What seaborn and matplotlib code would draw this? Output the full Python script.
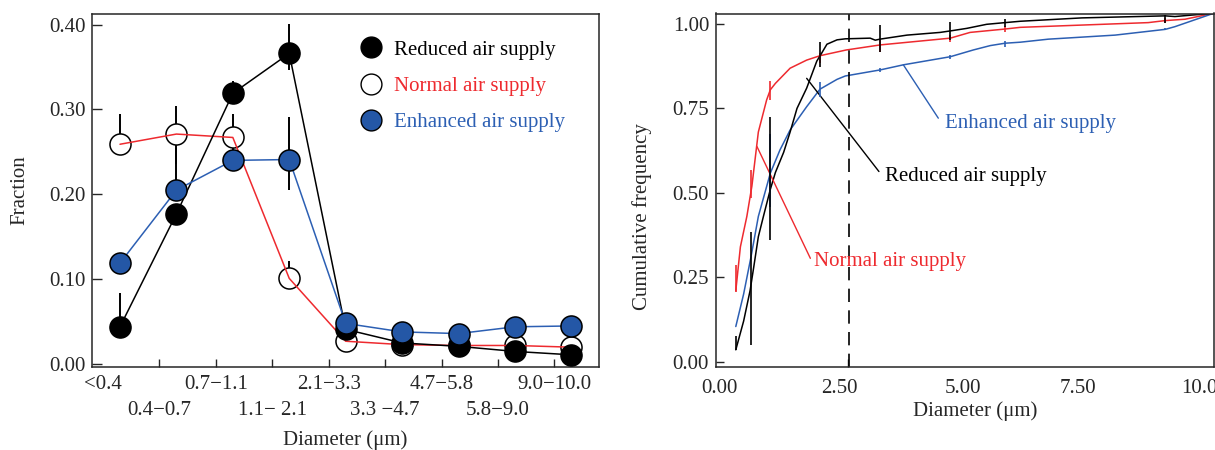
"""
Particle size distributions under three air supply conditions:
fraction per size class (left) and cumulative frequency (right).
"""

import numpy as np
import seaborn as sns
import matplotlib.pyplot as plt
from matplotlib.lines import Line2D

RED = "#ee2a2f"
BLUE = "#2c5fb3"
BLUE_FILL = "#2457a6"

# ---- left panel: fraction per size class ----
size_classes = ["<0.4", "0.4−0.7", "0.7−1.1", "1.1− 2.1", "2.1−3.3",
                "3.3 −4.7", "4.7−5.8", "5.8−9.0", "9.0−10.0"]
frac_reduced = [0.044, 0.177, 0.319, 0.366, 0.041, 0.025, 0.021, 0.015, 0.011]
frac_normal = [0.259, 0.271, 0.267, 0.101, 0.027, 0.023, 0.022, 0.022, 0.020]
frac_enhanced = [0.119, 0.205, 0.240, 0.241, 0.048, 0.038, 0.036, 0.044, 0.045]
# error bars (lower, upper) as visible in the figure
err_reduced = ([0.0, 0.0, 0.013, 0.019, 0, 0, 0, 0, 0],
               [0.040, 0.0, 0.014, 0.035, 0, 0, 0, 0, 0])
err_normal = ([0.0, 0.035, 0.028, 0.0, 0, 0, 0, 0, 0],
              [0.036, 0.033, 0.028, 0.021, 0, 0, 0, 0, 0])
err_enhanced = ([0.0, 0.010, 0.0, 0.036, 0, 0, 0, 0, 0],
                [0.0, 0.050, 0.0, 0.050, 0, 0, 0, 0, 0])

# ---- right panel: cumulative frequency curves ----
cum_reduced_x = [0.07, 0.24, 0.38, 0.46, 0.56, 0.67, 0.82, 0.93, 1.11, 1.25,
                 1.40, 1.61, 1.83, 1.92, 2.05, 2.27, 2.45, 2.99, 3.10, 3.20,
                 3.79, 4.51, 4.76, 5.09, 5.52, 5.92, 6.25, 7.59, 9.40, 9.61,
                 10.46]
cum_reduced_y = [0.035, 0.12, 0.21, 0.28, 0.37, 0.43, 0.51, 0.56, 0.62, 0.68,
                 0.75, 0.81, 0.89, 0.91, 0.94, 0.953, 0.956, 0.958, 0.952,
                 0.955, 0.967, 0.975, 0.980, 0.987, 0.999, 1.004, 1.008,
                 1.018, 1.024, 1.022, 1.032]
cum_normal_x = [0.07, 0.17, 0.31, 0.42, 0.56, 0.74, 0.82, 0.93, 1.25, 1.61,
                1.90, 2.47, 3.21, 4.73, 5.16, 5.92, 6.25, 9.03, 9.40, 9.83,
                10.46]
cum_normal_y = [0.21, 0.34, 0.43, 0.52, 0.68, 0.775, 0.805, 0.824, 0.869,
                0.893, 0.906, 0.923, 0.938, 0.958, 0.975, 0.985, 0.990,
                1.004, 1.010, 1.014, 1.032]
cum_enhanced_x = [0.07, 0.24, 0.40, 0.56, 0.82, 1.03, 1.25, 1.61, 1.90, 2.27,
                  2.45, 3.21, 3.71, 4.73, 5.23, 5.60, 5.92, 6.25, 6.86, 8.31,
                  9.40, 9.61, 10.46]
cum_enhanced_y = [0.104, 0.20, 0.31, 0.43, 0.558, 0.627, 0.686, 0.755, 0.807,
                  0.836, 0.846, 0.864, 0.879, 0.903, 0.923, 0.936, 0.943,
                  0.946, 0.955, 0.967, 0.984, 0.992, 1.032]
# error bars on the cumulative curves: position, centre, half width
cerr_reduced_x = [0.07, 0.40, 0.82, 1.90, 3.21, 4.73, 5.92, 9.40]
cerr_reduced_y = [0.055, 0.217, 0.542, 0.911, 0.957, 0.980, 1.003, 1.015]
cerr_reduced_h = [0.020, 0.168, 0.182, 0.037, 0.040, 0.027, 0.011, 0.012]
cerr_normal_x = [0.07, 0.40, 0.82, 1.90, 3.21, 4.73, 5.92, 9.40]
cerr_normal_y = [0.247, 0.526, 0.803, 0.898, 0.935, 0.957, 0.985, 1.010]
cerr_normal_h = [0.040, 0.042, 0.028, 0.015, 0.017, 0.010, 0.008, 0.007]
cerr_enhanced_x = [0.82, 1.90, 3.21, 4.73, 5.92, 9.40]
cerr_enhanced_y = [0.567, 0.807, 0.864, 0.902, 0.941, 0.985]
cerr_enhanced_h = [0.108, 0.022, 0.007, 0.006, 0.008, 0.004]
split_diameter = 2.52

sns.set_style("ticks")
plt.rcParams["font.family"] = ["Liberation Serif", "DejaVu Serif"]
plt.rcParams["font.size"] = 15
plt.rcParams["axes.linewidth"] = 1.1

fig = plt.figure(figsize=(12.15, 4.5), dpi=100)
ax1 = fig.add_axes([0.0760, 0.1851, 0.4170, 0.7849])
ax2 = fig.add_axes([0.5893, 0.1851, 0.4099, 0.7849])

# ---------- left ----------
pos = np.arange(len(size_classes))
for vals, (lo, hi) in [(frac_reduced, err_reduced), (frac_normal, err_normal),
                       (frac_enhanced, err_enhanced)]:
    v = np.array(vals)
    ax1.vlines(pos, v - np.array(lo), v + np.array(hi), color="black",
               lw=1.4, zorder=1)

sns.scatterplot(x=pos, y=frac_normal, ax=ax1, s=230, color="white",
                edgecolor="black", linewidth=1.1, zorder=3)
sns.lineplot(x=pos, y=frac_normal, ax=ax1, color=RED, lw=1.1, zorder=4)
sns.lineplot(x=pos, y=frac_reduced, ax=ax1, color="black", lw=1.1, zorder=5)
sns.scatterplot(x=pos, y=frac_reduced, ax=ax1, s=230, color="black",
                edgecolor="black", linewidth=1.1, zorder=5)
sns.lineplot(x=pos, y=frac_enhanced, ax=ax1, color=BLUE, lw=1.1, zorder=6)
sns.scatterplot(x=pos, y=frac_enhanced, ax=ax1, s=230, color=BLUE_FILL,
                edgecolor="black", linewidth=1.1, zorder=6)

ax1.set_xlim(-0.49, 8.49)
ax1.set_ylim(-0.003, 0.413)
ax1.set_yticks([0.0, 0.1, 0.2, 0.3, 0.4])
ax1.set_yticklabels(["0.00", "0.10", "0.20", "0.30", "0.40"])
# size-class labels in two staggered rows
label_pos = pos - 0.3
ax1.xaxis.remove_overlapping_locs = False
ax1.set_xticks(label_pos)
ax1.set_xticklabels([s if i % 2 == 0 else "" for i, s in enumerate(size_classes)])
ax1.set_xticks(label_pos[1::2], minor=True)
ax1.set_xticklabels(size_classes[1::2], minor=True)
ax1.tick_params(axis="x", which="major", direction="in", length=6, width=1,
                pad=6)
ax1.tick_params(axis="x", which="minor", length=0, pad=25)
ax1.xaxis.get_major_ticks()[0].tick1line.set_visible(False)
ax1.tick_params(axis="y", direction="in", length=7, width=1, pad=5)
ax1.set_xlabel("Diameter (μm)")
ax1.set_ylabel("Fraction", va="center")
ax1.xaxis.set_label_coords(0.5, -0.207)
ax1.xaxis.label.set_va("center")
ax1.yaxis.set_label_coords(-0.143, 0.5)

handles = [
    Line2D([], [], ls="", marker="o", ms=15, mfc="black", mec="black"),
    Line2D([], [], ls="", marker="o", ms=15, mfc="white", mec="black"),
    Line2D([], [], ls="", marker="o", ms=15, mfc=BLUE_FILL, mec="black"),
]
ax1.legend(handles, ["Reduced air supply", "Normal air supply",
                     "Enhanced air supply"],
           loc="upper left", bbox_to_anchor=(0.53, 0.925), frameon=False,
           handlelength=1.0, handletextpad=0.6, labelspacing=0.8,
           borderpad=0, borderaxespad=0, fontsize=15,
           labelcolor=["black", RED, BLUE])

# ---------- right ----------
for xs, ys, hs, c in [(cerr_normal_x, cerr_normal_y, cerr_normal_h, RED),
                      (cerr_enhanced_x, cerr_enhanced_y, cerr_enhanced_h, BLUE),
                      (cerr_reduced_x, cerr_reduced_y, cerr_reduced_h, "black")]:
    y = np.array(ys)
    h = np.array(hs)
    ax2.vlines(xs, y - h, y + h, color=c, lw=1.2, zorder=3)

sns.lineplot(x=cum_normal_x, y=cum_normal_y, ax=ax2, color=RED, lw=1.1,
             sort=False, estimator=None)
sns.lineplot(x=cum_enhanced_x, y=cum_enhanced_y, ax=ax2, color=BLUE, lw=1.1,
             sort=False, estimator=None)
sns.lineplot(x=cum_reduced_x, y=cum_reduced_y, ax=ax2, color="black",
             lw=1.1, sort=False, estimator=None)
ax2.axvline(split_diameter, color="black", lw=1.2, ls=(0, (8, 5)))

# curve labels with leader lines
ax2.plot([1.61, 3.18], [0.839, 0.563], color="black", lw=1.0)
ax2.text(3.31, 0.548, "Reduced air supply", color="black", va="center")
ax2.plot([3.71, 4.47], [0.879, 0.721], color=BLUE, lw=1.0)
ax2.text(4.62, 0.704, "Enhanced air supply", color=BLUE, va="center")
ax2.plot([0.53, 1.69], [0.637, 0.306], color=RED, lw=1.0)
ax2.text(1.77, 0.296, "Normal air supply", color=RED, va="center")

ax2.set_xlim(-0.36, 10.46)
ax2.set_ylim(-0.015, 1.031)
ax2.set_yticks([0.0, 0.25, 0.5, 0.75, 1.0])
ax2.set_yticklabels(["0.00", "0.25", "0.50", "0.75", "1.00"])
ax2.set_xticks([-0.28, 2.32, 5.0, 7.5, 10.25])
ax2.set_xticklabels(["0.00", "2.50", "5.00", "7.50", "10.00"])
ax2.set_xticks([2.5, 5.0, 7.5], minor=True)
ax2.tick_params(axis="x", which="major", length=0, pad=9)
ax2.tick_params(axis="x", which="minor", direction="in", length=6, width=1)
ax2.tick_params(axis="y", direction="in", length=6, width=1, pad=5)
ax2.set_xlabel("Diameter (μm)")
ax2.set_ylabel("Cumulative frequency", va="center")
ax2.xaxis.set_label_coords(0.52, -0.127)
ax2.xaxis.label.set_va("center")
ax2.yaxis.set_label_coords(-0.149, 0.425)

fig.savefig("out.png", dpi=100)
